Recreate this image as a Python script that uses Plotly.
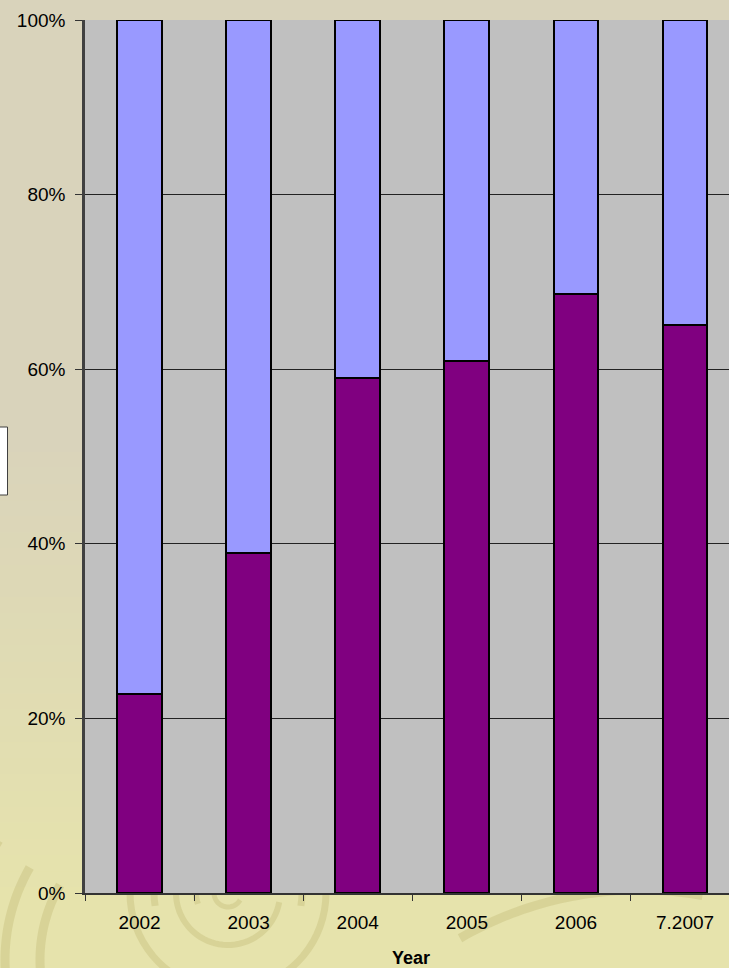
import math
import plotly.graph_objects as go

# Share of each year's total, in percent (bottom segment; the top segment is the remainder)
years = ["2002", "2003", "2004", "2005", "2006", "7.2007"]
lower_share = [22.8, 38.9, 59.0, 60.9, 68.6, 65.1]
upper_share = [round(100 - v, 1) for v in lower_share]
y_ticks = [0, 20, 40, 60, 80, 100]
y_tick_labels = [f"{v}%" for v in y_ticks]

W, H = 729, 968
ML, MR, MT, MB = 85, 0, 20, 75
PW, PH = W - ML - MR, H - MT - MB


def px(x):
    """Pixel x -> paper x."""
    return (x - ML) / PW


def py(y):
    """Pixel y -> paper y."""
    return (H - MB - y) / PH


def mix(c1, c2, t):
    return "rgb(%d,%d,%d)" % tuple(round(a + (b - a) * t) for a, b in zip(c1, c2))


fig = go.Figure()
fig.add_trace(go.Bar(
    x=years, y=lower_share, name="lower",
    marker=dict(color="#800080", line=dict(color="#000000", width=2)),
))
fig.add_trace(go.Bar(
    x=years, y=upper_share, name="upper",
    marker=dict(color="#9999FF", line=dict(color="#000000", width=2)),
))

shapes = []

# Page background: beige fading to pale yellow toward the bottom
top_c, bot_c = (217, 211, 187), (230, 227, 172)
n = 60
for i in range(n):
    y0, y1 = H * i / n, H * (i + 1) / n
    t = min(max(((y0 + y1) / 2 - 430) / 470, 0), 1)
    shapes.append(dict(
        type="rect", xref="paper", yref="paper", layer="below",
        x0=px(-5), x1=px(W + 5), y0=py(y1 + 1), y1=py(y0),
        fillcolor=mix(top_c, bot_c, t), line=dict(width=0),
    ))


def arc(cx, cy, r, a0, a1, steps=40):
    pts = []
    for k in range(steps + 1):
        a = math.radians(a0 + (a1 - a0) * k / steps)
        pts.append((px(cx + r * math.cos(a)), py(cy - r * math.sin(a))))
    return "M " + " L ".join(f"{x:.5f},{y:.5f}" for x, y in pts)


swirl = "rgba(196,188,120,0.40)"
# concentric swirl under the left part of the axis
for r, a0, a1, w in [(14, 0, 330, 5), (32, 200, 20, 6), (52, 170, 350, 6),
                     (74, 190, -10, 7), (98, 160, 360, 7)]:
    shapes.append(dict(type="path", xref="paper", yref="paper", layer="below",
                       path=arc(228, 893, r, a0, a1), line=dict(color=swirl, width=w)))
# large arcs on the left edge
for r, a0, a1, w in [(150, 150, 215, 9), (185, 150, 210, 9), (225, 148, 200, 8)]:
    shapes.append(dict(type="path", xref="paper", yref="paper", layer="below",
                       path=arc(190, 960, r, a0, a1), line=dict(color=swirl, width=w)))
# sweep along the lower right
shapes.append(dict(type="path", xref="paper", yref="paper", layer="below",
                   path=arc(640, 1250, 360, 120, 80), line=dict(color=swirl, width=9)))

# grey plotting area on top of the page decoration
shapes.append(dict(type="rect", xref="paper", yref="paper", layer="below",
                   x0=0, x1=1, y0=0, y1=1, fillcolor="#C0C0C0", line=dict(width=0)))

# legend box, mostly off the left edge of the page
shapes.append(dict(type="rect", xref="paper", yref="paper", layer="above",
                   x0=px(-20), x1=px(7.5), y0=py(495), y1=py(427),
                   fillcolor="#FFFFFF", line=dict(color="#404040", width=1)))

fig.update_layout(
    width=W, height=H,
    margin=dict(l=ML, r=MR, t=MT, b=MB, pad=0),
    barmode="stack", bargap=0.59,
    showlegend=False,
    paper_bgcolor="rgb(217,211,187)",
    plot_bgcolor="#C0C0C0",
    font=dict(family="Liberation Sans, Arial, sans-serif", size=19, color="#000000"),
    shapes=shapes,
    annotations=[dict(
        text="<b>Year</b>", xref="paper", yref="paper",
        x=px(411), y=py(958), xanchor="center", yanchor="middle",
        showarrow=False, font=dict(size=18, color="#000000"),
    )],
)

fig.update_xaxes(
    type="category",
    range=[-0.5, -0.5 + (W - ML) / 109.1],
    tickson="boundaries", ticks="outside", ticklen=6, tickwidth=1, tickcolor="#333333",
    showgrid=False, showline=True, linecolor="#333333", linewidth=1.5,
    ticklabelstandoff=11,
)
fig.update_yaxes(
    range=[0, 100], tickvals=y_ticks, ticktext=y_tick_labels,
    ticks="outside", ticklen=7, tickwidth=1, tickcolor="#333333",
    showgrid=True, gridcolor="#222222", gridwidth=1,
    showline=True, linecolor="#404040", linewidth=2.5,
    zeroline=False, ticklabelstandoff=6,
)

fig.write_html("out.html")
